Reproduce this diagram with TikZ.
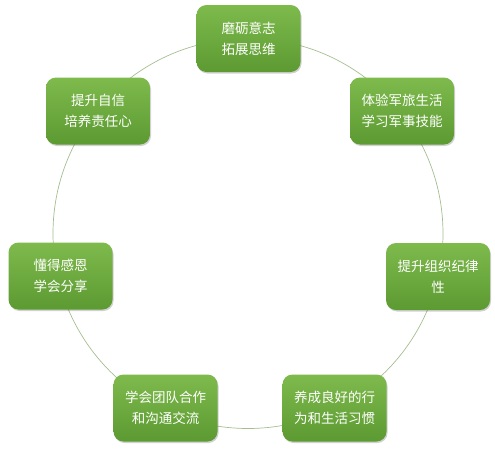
\documentclass[tikz,border=0pt]{standalone}
\usepackage{fontspec}
\newfontfamily\cjk{Noto Sans CJK SC}
\usetikzlibrary{shadows}
\definecolor{ringcol}{RGB}{165,190,145}
\definecolor{gtop}{RGB}{126,186,76}
\definecolor{gbot}{RGB}{92,154,50}
\tikzset{
  box/.style={rectangle, rounded corners=10pt, minimum width=104pt, minimum height=67pt,
    top color=gtop, bottom color=gbot, draw=none, text=white, align=center,
    font=\cjk\fontsize{13.5}{21}\selectfont, inner sep=2pt,
    drop shadow={shadow xshift=1pt, shadow yshift=-1.5pt, opacity=0.18, fill=black}},
  ring/.style={draw=ringcol, line width=0.7pt}
}
\begin{document}
\begin{tikzpicture}[x=1pt,y=-1pt]
\useasboundingbox (0,0) rectangle (495,448);
\coordinate (c) at (248,233.5);
\draw[ring] (c) circle[radius=195pt];
\node[box] (n1) at (248.5,38.5) {磨砺意志\\拓展思维};
\node[box] (n2) at (402,111) {体验军旅生活\\学习军事技能};
\node[box] (n3) at (438,276.5) {提升组织纪律\\性};
\node[box] (n4) at (334.5,408) {养成良好的行\\为和生活习惯};
\node[box] (n5) at (165.5,408) {学会团队合作\\和沟通交流};
\node[box] (n6) at (60.5,276) {懂得感恩\\学会分享};
\node[box] (n7) at (98,111) {提升自信\\培养责任心};
\end{tikzpicture}
\end{document}
